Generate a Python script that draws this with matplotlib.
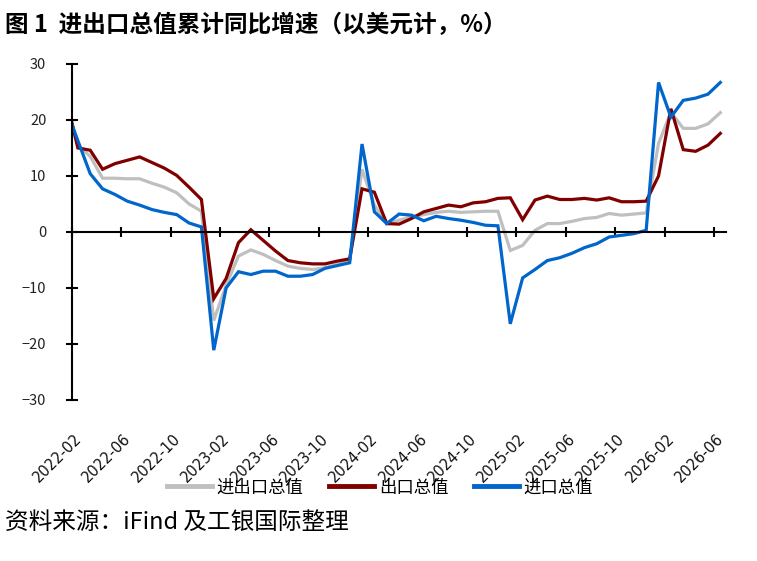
import matplotlib
matplotlib.use('Agg')
import matplotlib.pyplot as plt
from matplotlib.lines import Line2D
from matplotlib import transforms

plt.rcParams['font.family'] = ['Noto Sans CJK SC', 'DejaVu Sans']

# monthly categories, the first one (2022-01) only shows as the clipped start of the lines
months = ['%d-%02d' % (y, m) for y in range(2022, 2027) for m in range(1, 13)][:54]

# cumulative yoy growth, %
total = [22.5, 15.5, 13.5, 9.6, 9.6, 9.5, 9.5, 8.7, 8.0, 7.0, 5.0, 3.7,
         -15.8, -9.5, -4.3, -3.2, -4.0, -5.1, -6.1, -6.5, -6.7, -6.4, -5.8, -5.2,
         11.2, 4.8, 1.5, 2.1, 2.7, 3.1, 3.5, 3.7, 3.5, 3.6, 3.7, 3.7,
         -3.3, -2.4, 0.3, 1.5, 1.5, 1.9, 2.4, 2.6, 3.3, 3.0, 3.2, 3.4,
         15.8, 21.4, 18.5, 18.5, 19.3, 21.3]
exports = [24.4, 15.0, 14.6, 11.2, 12.2, 12.8, 13.4, 12.4, 11.4, 10.1, 8.0, 5.8,
           -11.9, -8.3, -1.9, 0.4, -1.5, -3.4, -5.1, -5.5, -5.7, -5.7, -5.2, -4.8,
           7.7, 7.1, 1.5, 1.4, 2.4, 3.6, 4.2, 4.8, 4.5, 5.2, 5.4, 6.0,
           6.1, 2.2, 5.7, 6.4, 5.8, 5.8, 6.0, 5.7, 6.1, 5.4, 5.4, 5.5,
           10.0, 22.0, 14.7, 14.4, 15.5, 17.6]
imports = [22.3, 16.3, 10.4, 7.7, 6.7, 5.5, 4.8, 4.0, 3.5, 3.1, 1.6, 0.9,
           -21.1, -10.0, -7.1, -7.6, -7.0, -7.0, -7.9, -7.9, -7.6, -6.5, -6.0, -5.5,
           15.7, 3.6, 1.5, 3.2, 3.0, 2.0, 2.8, 2.4, 2.1, 1.7, 1.2, 1.1,
           -16.4, -8.2, -6.7, -5.1, -4.6, -3.8, -2.8, -2.1, -0.9, -0.6, -0.3, 0.3,
           26.7, 20.5, 23.5, 23.9, 24.6, 26.7]

names = ['进出口总值', '出口总值', '进口总值']
colors = ['#BFBFBF', '#800000', '#0066CC']

fig = plt.figure(figsize=(7.57, 5.61), dpi=100)
ax = fig.add_axes([0.0947, 0.287, 0.865, 0.599])

x = list(range(len(months)))
for ys, c in zip([total, exports, imports], colors):
    ax.plot(x, ys, color=c, lw=2.3, solid_joinstyle='miter')

ax.set_xlim(0.5, len(months) - 0.5)
ax.set_ylim(-30, 30)
ax.set_yticks(range(-30, 31, 10))
ax.tick_params(axis='y', direction='inout', length=8.5, width=1.5, pad=14,
               labelsize=10.5, labelcolor='#222222')

# x axis sits on zero, ticks at the boundaries every 4 months
ax.spines['bottom'].set_position(('data', 0))
ax.spines['top'].set_visible(False)
ax.spines['right'].set_visible(False)
ax.spines['left'].set_linewidth(1.5)
ax.spines['bottom'].set_linewidth(1.5)
ax.set_xticks([i - 0.5 for i in range(1, len(months), 4)])
ax.tick_params(axis='x', direction='inout', length=7, width=1.5, labelbottom=False)

# date labels below the plot area
trans = transforms.blended_transform_factory(ax.transData, ax.transAxes)
for i in range(1, len(months), 4):
    ax.text(i + 0.08, -0.108, months[i], transform=trans, rotation=45,
            rotation_mode='anchor', ha='right', va='center', fontsize=10.5,
            family='DejaVu Sans', color='#111111')

handles = [Line2D([], [], color=c, lw=3.5) for c in colors]
fig.legend(handles, names, loc='center', bbox_to_anchor=(0.502, 0.131), ncol=3,
           frameon=False, fontsize=12.5, handlelength=2.6, handletextpad=0.25,
           columnspacing=1.5)

fig.text(0.007, 0.955, '图 1  进出口总值累计同比增速（以美元计，%）', fontsize=17,
         fontweight='bold', va='center', ha='left')
fig.text(0.007, 0.068, '资料来源：iFind 及工银国际整理', fontsize=17, style='italic',
         va='center', ha='left')

fig.savefig('out.png', dpi=100)
